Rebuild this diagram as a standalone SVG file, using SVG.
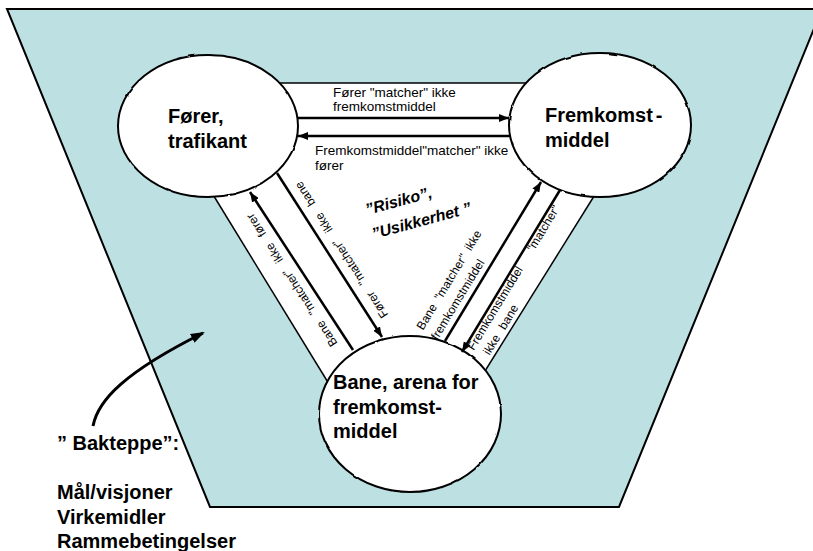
<svg xmlns="http://www.w3.org/2000/svg" width="813" height="551" viewBox="0 0 813 551">
  <style>
    .bg { fill: #bde0e3; stroke: #000; stroke-width: 2; }
    .edge { fill: none; stroke: #000; stroke-width: 1.5; }
    .conn { fill: none; stroke: #000; stroke-width: 2.5; marker-end: url(#head); }
    .bubble { fill: #fff; stroke: #000; stroke-width: 2; filter: url(#rough); }
    .title { font-family: "Liberation Sans", Arial, sans-serif; font-weight: bold; font-size: 20px; fill: #000; }
    .lbl { font-family: "Liberation Sans", Arial, sans-serif; font-size: 13.5px; fill: #000; }
    .rot { font-family: "Liberation Sans", Arial, sans-serif; font-size: 12px; fill: #000; }
    .risk { font-family: "Liberation Sans", Arial, sans-serif; font-weight: bold; font-style: italic; font-size: 16px; fill: #000; }
  </style>
  <defs>
    <marker id="head" markerUnits="userSpaceOnUse" markerWidth="10" markerHeight="8" refX="10" refY="4" orient="auto">
      <path d="M0,0 L10,4 L0,8 Z" fill="#000"/>
    </marker>
    <marker id="bighead" markerUnits="userSpaceOnUse" markerWidth="14" markerHeight="10" refX="12" refY="5" orient="auto">
      <path d="M0,0 L14,5 L0,10 Z" fill="#000"/>
    </marker>
    <filter id="rough" x="-5%" y="-5%" width="110%" height="110%">
      <feTurbulence type="fractalNoise" baseFrequency="0.08" numOctaves="1" seed="4"/>
      <feDisplacementMap in="SourceGraphic" scale="2.5" xChannelSelector="R" yChannelSelector="G"/>
    </filter>
  </defs>

  <!-- backdrop funnel and the white working area between the three bubbles -->
  <g id="backdrop">
    <polygon class="bg" points="7,9 822,9 619,507 210,507"/>
    <polygon fill="#fff" points="270,83 540,83 600,125 596,193 485,371 410,414 329,384 212,193 208,126"/>
    <line class="edge" x1="270" y1="83" x2="540" y2="83"/>
    <line class="edge" x1="212" y1="193" x2="329" y2="384"/>
    <line class="edge" x1="596" y1="193" x2="485" y2="371"/>
  </g>

  <!-- nodes -->
  <g id="node-forer">
    <ellipse class="bubble" cx="208" cy="126" rx="90" ry="71"/>
    <text class="title" x="168" y="123">Fører,</text>
    <text class="title" x="168" y="147.5">trafikant</text>
  </g>
  <g id="node-fremkomstmiddel">
    <ellipse class="bubble" cx="600" cy="125" rx="91" ry="72"/>
    <text class="title" x="545" y="122">Fremkomst<tspan dx="3">-</tspan></text>
    <text class="title" x="545" y="146.5">middel</text>
  </g>
  <g id="node-bane">
    <ellipse class="bubble" cx="410" cy="414" rx="91" ry="78"/>
    <text class="title" x="333" y="389">Bane, arena for</text>
    <text class="title" x="333" y="413.5">fremkomst-</text>
    <text class="title" x="333" y="438">middel</text>
  </g>

  <!-- connectors -->
  <g id="connectors">
    <line class="conn" x1="297" y1="118" x2="509" y2="118"/>
    <line class="conn" x1="510" y1="136" x2="298" y2="136"/>
    <line class="conn" x1="353" y1="350" x2="250" y2="192"/>
    <line class="conn" x1="277" y1="173" x2="382" y2="337"/>
    <line class="conn" x1="445" y1="341" x2="541" y2="182"/>
    <line class="conn" x1="560" y1="190" x2="462" y2="352"/>
    <path d="M93,426 C98,400 125,372 203,333" fill="none" stroke="#000" stroke-width="3" marker-end="url(#bighead)"/>
  </g>

  <!-- connector labels -->
  <g id="labels">
    <text class="lbl" x="333" y="97">Fører "matcher" ikke</text>
    <text class="lbl" x="333" y="111">fremkomstmiddel</text>
    <text class="lbl" x="315" y="155">Fremkomstmiddel"matcher" ikke</text>
    <text class="lbl" x="315" y="170">fører</text>

    <g transform="translate(353,350) rotate(-123.1)">
      <text class="rot" x="14" y="-9" word-spacing="6.5">Bane "matcher" ikke fører</text>
      <text class="rot" x="10" y="49" word-spacing="7">Fører "matcher" ikke bane</text>
    </g>

    <g transform="translate(443,344) rotate(-58.8)">
      <text class="rot" x="1" y="-24" word-spacing="3">Bane "matcher" ikke</text>
      <text class="rot" x="0" y="-6.5">fremkomstmiddel</text>
      <text class="rot" x="10" y="30">Fremkomstmiddel<tspan x="125">"matcher"</tspan></text>
      <text class="rot" x="14" y="46" word-spacing="5">ikke bane</text>
    </g>

    <g transform="translate(367,215) rotate(-15)">
      <text class="risk" x="0" y="0">”Risiko”,</text>
      <text class="risk" x="0" y="25">”Usikkerhet ”</text>
    </g>
  </g>

  <!-- backdrop caption -->
  <g id="caption">
    <text class="title" x="57" y="450">” Bakteppe”:</text>
    <text class="title" x="57" y="499">Mål/visjoner</text>
    <text class="title" x="57" y="524">Virkemidler</text>
    <text class="title" x="57" y="548">Rammebetingelser</text>
  </g>
</svg>
